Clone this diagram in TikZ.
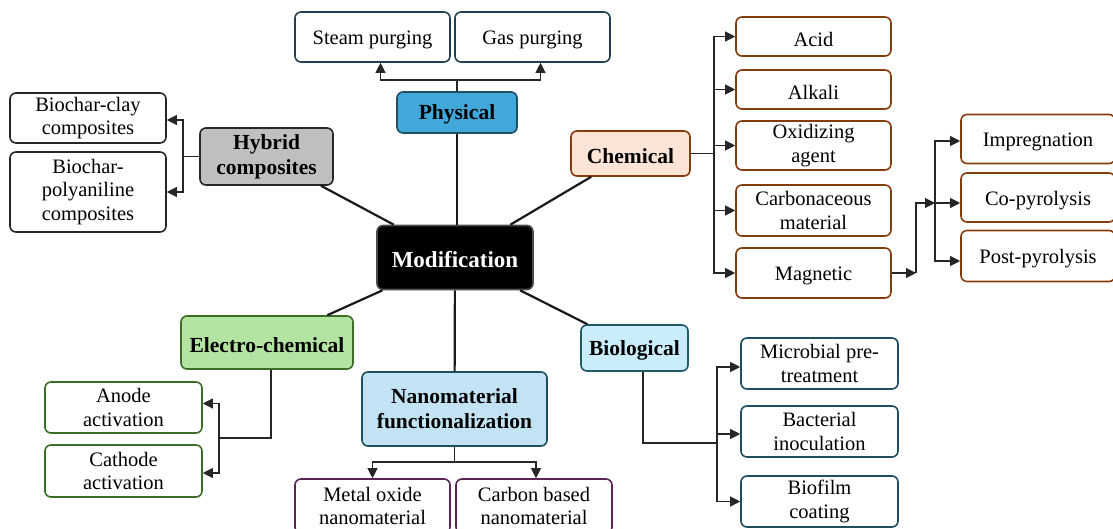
\documentclass[tikz,border=0pt]{standalone}
\usepackage{fontspec}
\setmainfont{Liberation Serif}
\usetikzlibrary{arrows.meta}

\definecolor{physfill}{HTML}{41A8DA}
\definecolor{tealline}{HTML}{1F4E61}
\definecolor{slateline}{HTML}{203F50}
\definecolor{hybfill}{HTML}{BFBFBF}
\definecolor{darkline}{HTML}{262626}
\definecolor{chemfill}{HTML}{FBE3D6}
\definecolor{chemline}{HTML}{843C0C}
\definecolor{elecfill}{HTML}{B3E4A2}
\definecolor{elecline}{HTML}{3A6E28}
\definecolor{nanofill}{HTML}{C2E3F4}
\definecolor{purpline}{HTML}{5B2457}
\definecolor{biofill}{HTML}{C9EDFB}
\definecolor{bioline}{HTML}{1F5A6B}

\begin{document}
\begin{tikzpicture}[x=1pt,y=-1pt,
    box/.style={draw, rounded corners=6pt, line width=1.6pt, align=center, inner sep=2pt,
        execute at begin node={\rule{0pt}{19.5pt}}, font=\fontsize{20.5}{23.5}\selectfont},
    head/.style={box, font=\fontsize{21.5}{25}\selectfont\bfseries},
    spoke/.style={line width=2.2pt, black!90},
    conn/.style={line width=1.1pt, black!85},
    arr/.style={conn, -{Triangle[length=10pt,width=10pt]}}]
        % Fix the page size
        \useasboundingbox (0,0) rectangle (1113,529);

        % Draw the centre node
        \node[head, font=\fontsize{23}{27}\selectfont\bfseries, fill=black, draw=black!70, text=white, minimum width=156, minimum height=64] (mod) at (455,257.5) {Modification};

        % Draw the main branches
        \node[head, fill=physfill, draw=tealline, minimum width=120, minimum height=41] (phys) at (457,112.5) {Physical};
        \node[head, fill=hybfill, draw=darkline, minimum width=133, minimum height=57] (hyb) at (266.5,156.5) {Hybrid\\composites};
        \node[head, fill=chemfill, draw=chemline, minimum width=119, minimum height=45] (chem) at (630.5,153.5) {Chemical};
        \node[head, fill=elecfill, draw=elecline, minimum width=172, minimum height=53] (elec) at (267,342.5) {Electro-chemical};
        \node[head, fill=nanofill, draw=tealline, minimum width=185, minimum height=74] (nano) at (454.5,409) {Nanomaterial\\functionalization};
        \node[head, fill=biofill, draw=bioline, minimum width=107, minimum height=46] (bio) at (634.5,348) {Biological};

        % Join the branches to the centre
        \draw[spoke] (phys) -- (phys |- mod.north);
        \draw[spoke] (mod) -- (hyb);
        \draw[spoke] (mod) -- (chem);
        \draw[spoke] (mod) -- (elec);
        \draw[spoke] (mod) -- (nano);
        \draw[spoke] (mod) -- (bio);

        % Physical methods
        \node[box, draw=slateline, minimum width=155, minimum height=50] (steam) at (372.5,37) {Steam purging};
        \node[box, draw=slateline, minimum width=155, minimum height=50] (gas) at (532.5,37) {Gas purging};
        \coordinate (physj) at (457,80);
        \draw[conn] (phys) -- (physj);
        \draw[arr] (physj) -| ([xshift=8pt]steam.south);
        \draw[arr] (physj) -| ([xshift=8pt]gas.south);

        % Hybrid composites
        \node[box, draw=darkline, minimum width=156, minimum height=50] (clay) at (88,118) {Biochar-clay\\composites};
        \node[box, draw=darkline, minimum width=156, minimum height=80] (poly) at (88,192) {Biochar-\\polyaniline\\composites};
        \coordinate (hybj) at (183,156.5);
        \draw[conn] (hyb) -- (hybj);
        \draw[arr] (hybj) |- ([yshift=-2pt]clay.east);
        \draw[arr] (hybj) |- (poly.east);

        % Chemical agents
        \node[box, draw=chemline, minimum width=155, minimum height=39] (acid) at (813.5,36.5) {Acid};
        \node[box, draw=chemline, minimum width=155, minimum height=39] (alkali) at (813.5,89.5) {Alkali};
        \node[box, draw=chemline, minimum width=155, minimum height=49] (oxid) at (813.5,145.5) {Oxidizing\\agent};
        \node[box, draw=chemline, minimum width=155, minimum height=51] (carb) at (813.5,210.5) {Carbonaceous\\material};
        \node[box, draw=chemline, minimum width=155, minimum height=50] (magn) at (813.5,273) {Magnetic};
        \coordinate (chemj) at (714,153.5);
        \draw[conn] (chem) -- (chemj);
        \foreach \n in {acid,alkali,oxid,carb,magn}
            \draw[arr] (chemj) |- (\n);

        % Magnetic routes
        \node[box, draw=chemline, minimum width=154, minimum height=49] (impr) at (1038,139) {Impregnation};
        \node[box, draw=chemline, minimum width=154, minimum height=49] (copyr) at (1038,197.5) {Co-pyrolysis};
        \node[box, draw=chemline, minimum width=154, minimum height=51] (postp) at (1038,256) {Post-pyrolysis};
        \coordinate (magj) at (916,273);
        \coordinate (magk) at (935,203);
        \draw[arr] (magn) -- (magj);
        \draw[arr] (magj) |- (magk);
        \draw[arr] (magk) |- ([yshift=-2pt]impr.west);
        \draw[arr] (magk) -- (magk -| copyr.west);
        \draw[arr] (magk) |- ([yshift=-5pt]postp.west);

        % Electro-chemical methods
        \node[box, draw=elecline, minimum width=157, minimum height=51] (anode) at (123.5,407.5) {Anode\\activation};
        \node[box, draw=elecline, minimum width=157, minimum height=52] (cath) at (123.5,471) {Cathode\\activation};
        \coordinate (elecj) at (219,438);
        \draw[conn] ([xshift=4pt]elec.south) |- (elecj);
        \draw[arr] (elecj) |- ([yshift=4pt]anode.east);
        \draw[arr] (elecj) |- ([yshift=-2pt]cath.east);

        % Nanomaterials
        \node[box, draw=purpline, minimum width=155, minimum height=54] (metal) at (372.5,506) {Metal oxide\\nanomaterial};
        \node[box, draw=purpline, minimum width=156, minimum height=54] (carbon) at (534,506) {Carbon based\\nanomaterial};
        \coordinate (nanoj) at (454.5,462);
        \draw[conn] (nano) -- (nanoj);
        \draw[arr] (nanoj) -| (metal);
        \draw[arr] (nanoj) -| ([xshift=2pt]carbon.north);

        % Biological methods
        \node[box, draw=tealline, minimum width=157, minimum height=51] (micro) at (819.5,363.5) {Microbial pre-\\treatment};
        \node[box, draw=tealline, minimum width=157, minimum height=51] (bact) at (819.5,431.5) {Bacterial\\inoculation};
        \node[box, draw=tealline, minimum width=157, minimum height=51] (biofilm) at (819.5,501.5) {Biofilm\\coating};
        \coordinate (bioj) at (717,443);
        \draw[conn] ([xshift=8.5pt]bio.south) |- (bioj);
        \draw[arr] (bioj) |- ([yshift=-3.5pt]micro.west);
        \draw[arr] (bioj) |- ([yshift=-2.5pt]bact.west);
        \draw[arr] (bioj) |- (biofilm.west);
    \end{tikzpicture}
\end{document}
